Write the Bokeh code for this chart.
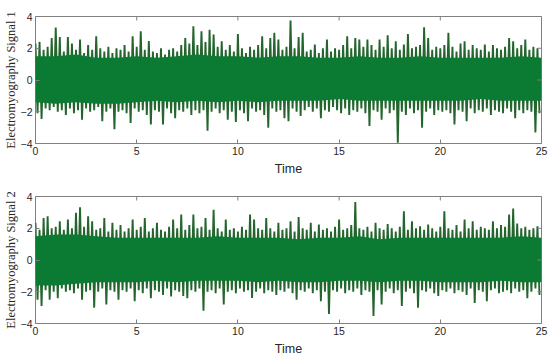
import numpy as np
from bokeh.plotting import figure
from bokeh.layouts import column
from bokeh.models import Range1d, FixedTicker
from bokeh.embed import file_html
from bokeh.resources import INLINE

# Sampling step of the envelope readings (seconds): each bin has one upper
# excursion (at its start) and one lower excursion (half a step later).
TIME_STEP = 0.2
# The solid core of each trace, read once per second (0..25 s).
CORE_STEP = 1.0
X_TICKS = [0, 5, 10, 15, 20, 25]
Y_TICKS = [-4, -2, 0, 2, 4]
X_LABEL = "Time"
Y_LABEL_1 = "Electromyography Signal 1"
Y_LABEL_2 = "Electromyography Signal 2"

S1_UP = [2.3, 2.4, 1.9, 2.1, 2.65, 3.3, 2.7, 1.8, 2.7, 2.3,
         1.9, 2.55, 1.7, 2.2, 1.9, 2.75, 2.0, 1.8, 2.1, 1.7,
         2.0, 1.9, 2.2, 1.8, 2.75, 2.1, 3.07, 1.9, 2.45, 1.8,
         1.7, 2.0, 1.6, 1.9, 2.0, 1.8, 2.2, 2.65, 2.3, 3.38,
         2.2, 3.07, 2.4, 3.17, 2.86, 2.1, 2.44, 1.9, 2.2, 1.8,
         2.9, 2.0, 1.7, 2.1, 1.9, 2.2, 2.75, 2.0, 2.65, 2.97,
         2.55, 1.9, 2.1, 3.74, 2.0, 2.7, 2.97, 1.8, 1.9, 2.23,
         1.7, 2.0, 2.55, 1.8, 2.0, 1.9, 2.2, 2.75, 2.0, 2.65,
         2.55, 2.1, 2.55, 2.2, 1.9, 2.55, 2.1, 2.82, 2.0, 2.44,
         1.9, 2.23, 2.9, 2.0, 2.1, 2.2, 3.32, 2.65, 1.9, 2.1,
         2.0, 2.2, 2.97, 2.1, 1.8, 2.3, 2.44, 1.9, 2.2, 2.0,
         1.9, 2.23, 1.8, 2.2, 2.0, 1.9, 2.1, 2.65, 2.44, 2.0,
         2.2, 2.55, 1.9, 2.1, 2.0]
S1_LO = [-2.1, -2.45, -1.8, -1.9, -1.7, -2.0, -1.9, -2.2, -1.8, -2.1,
         -1.9, -2.5, -1.8, -2.0, -1.9, -1.7, -2.6, -2.0, -1.8, -3.1,
         -2.0, -1.9, -2.1, -2.7, -1.8, -2.0, -1.9, -2.2, -2.8, -1.9,
         -2.0, -2.8, -1.8, -2.1, -2.4, -1.9, -2.0, -1.8, -2.2, -1.9,
         -2.1, -1.9, -3.2, -2.0, -1.8, -2.1, -1.9, -2.5, -2.0, -2.65,
         -1.9, -2.1, -2.6, -1.8, -2.0, -1.9, -2.2, -3.0, -1.8, -2.0,
         -1.9, -2.4, -2.6, -1.8, -2.0, -2.27, -1.9, -1.7, -2.0, -1.8,
         -2.4, -1.9, -2.0, -1.7, -1.9, -2.1, -1.8, -2.2, -1.9, -2.0,
         -1.8, -2.1, -2.9, -1.9, -2.0, -2.5, -1.8, -2.1, -1.9, -3.95,
         -2.0, -2.2, -1.8, -2.1, -1.9, -3.0, -2.0, -1.8, -2.2, -1.9,
         -2.0, -1.9, -2.1, -2.8, -1.9, -2.0, -2.6, -1.8, -2.1, -1.9,
         -2.0, -1.8, -2.2, -1.9, -2.0, -2.1, -1.8, -2.0, -2.4, -1.9,
         -2.1, -1.9, -2.0, -3.3, -2.1]
S1_CORE_UP = [1.5, 1.5, 1.6, 1.4, 1.4, 1.5, 1.4, 1.5, 1.6, 1.5, 1.5, 1.4, 1.5,
              1.5, 1.4, 1.4, 1.5, 1.4, 1.4, 1.5, 1.4, 1.4, 1.4, 1.4, 1.5, 1.4]
S1_CORE_LO = [-1.4, -1.5, -1.4, -1.5, -1.5, -1.4, -1.3, -1.4, -1.3, -1.4, -1.3, -1.4, -1.3,
              -1.3, -1.3, -1.2, -1.3, -1.3, -1.3, -1.3, -1.3, -1.3, -1.2, -1.3, -1.3, -1.3]

S2_UP = [2.34, 1.9, 2.65, 2.75, 2.0, 2.1, 2.44, 1.9, 2.55, 2.0,
         2.97, 3.32, 2.1, 2.75, 2.44, 1.9, 2.0, 2.65, 1.8, 2.34,
         1.9, 2.2, 1.8, 2.0, 2.55, 1.9, 2.1, 2.65, 1.8, 2.0,
         2.34, 1.9, 1.8, 2.1, 2.55, 2.0, 2.86, 1.9, 2.2, 2.86,
         2.0, 2.1, 2.65, 1.9, 3.17, 2.0, 1.8, 2.55, 1.9, 2.0,
         1.8, 2.1, 1.9, 2.86, 2.55, 2.0, 1.9, 2.65, 2.0, 1.8,
         2.34, 1.9, 2.0, 2.44, 1.8, 2.7, 2.0, 1.9, 2.34, 1.8,
         2.23, 1.9, 2.0, 1.8, 2.1, 2.55, 1.9, 2.0, 2.2, 3.66,
         2.0, 1.9, 2.1, 1.8, 2.34, 2.0, 1.9, 2.27, 2.0, 1.8,
         2.1, 3.07, 1.9, 2.44, 2.0, 2.13, 1.9, 2.23, 2.0, 1.8,
         2.1, 3.07, 2.0, 1.9, 2.2, 1.8, 2.55, 2.0, 2.44, 1.9,
         2.1, 2.0, 1.9, 2.44, 2.0, 2.2, 2.1, 2.86, 3.24, 2.3,
         2.0, 2.1, 1.9, 2.0, 2.13]
S2_LO = [-2.5, -2.9, -1.9, -2.5, -2.0, -2.4, -1.8, -2.0, -1.9, -2.1,
         -1.8, -2.5, -2.0, -1.9, -3.0, -2.0, -1.8, -2.8, -1.9, -2.0,
         -2.5, -1.9, -2.0, -1.8, -2.6, -1.9, -2.1, -1.8, -2.4, -1.9,
         -2.0, -2.2, -1.8, -2.3, -1.9, -2.0, -2.27, -2.4, -1.9, -2.0,
         -1.8, -3.2, -2.0, -1.9, -2.1, -1.8, -2.8, -2.0, -1.9, -2.1,
         -1.8, -2.0, -1.9, -2.4, -2.0, -1.8, -2.1, -1.9, -2.0, -2.2,
         -1.9, -2.0, -1.8, -2.1, -2.5, -1.9, -2.0, -1.8, -2.1, -1.9,
         -2.6, -2.0, -3.4, -1.9, -2.0, -1.8, -2.1, -1.9, -2.0, -1.8,
         -2.2, -1.9, -2.0, -3.53, -1.9, -2.8, -2.0, -1.8, -2.1, -1.9,
         -2.9, -2.0, -1.8, -2.1, -3.0, -1.9, -2.0, -1.8, -2.1, -2.27,
         -1.9, -2.0, -1.8, -2.1, -1.9, -2.0, -2.2, -1.8, -2.7, -1.9,
         -2.0, -2.6, -1.9, -1.8, -2.1, -2.0, -1.9, -2.1, -1.8, -2.0,
         -1.9, -2.4, -2.0, -1.8, -2.2]
S2_CORE_UP = [1.5, 1.6, 1.6, 1.5, 1.4, 1.4, 1.4, 1.4, 1.4, 1.5, 1.4, 1.4, 1.4,
              1.3, 1.4, 1.4, 1.5, 1.3, 1.4, 1.4, 1.4, 1.4, 1.4, 1.4, 1.5, 1.4]
S2_CORE_LO = [-1.6, -1.6, -1.5, -1.4, -1.4, -1.4, -1.3, -1.4, -1.3, -1.3, -1.3, -1.4, -1.3,
              -1.4, -1.4, -1.3, -1.3, -1.4, -1.3, -1.3, -1.4, -1.4, -1.4, -1.3, -1.4, -1.4]

FRAME_COLOR = "#808080"
TEXT_COLOR = "#262626"
SPIKE_COLOR = "#23652d"
CORE_COLOR = "#0b7a32"


def interleave(up, lo):
    n = len(up)
    t = np.arange(n) * TIME_STEP
    x = np.empty(2 * n)
    y = np.empty(2 * n)
    x[0::2] = t
    x[1::2] = t + TIME_STEP / 2
    y[0::2] = up
    y[1::2] = lo
    return x, y


def style_axis(ax):
    ax.axis_line_color = None
    ax.major_tick_line_color = FRAME_COLOR
    ax.major_tick_in = 4
    ax.major_tick_out = 0
    ax.minor_tick_line_color = None
    ax.major_label_text_color = TEXT_COLOR
    ax.major_label_text_font = "Liberation Sans"
    ax.major_label_text_font_size = "10.5px"
    ax.major_label_standoff = 3


def make(up, lo, core_up, core_lo, ylabel, top_border, bottom_border):
    x, y = interleave(up, lo)
    tc = np.arange(len(core_up)) * CORE_STEP
    p = figure(frame_width=506, frame_height=127,
               x_range=Range1d(X_TICKS[0], X_TICKS[-1]),
               y_range=Range1d(Y_TICKS[0], Y_TICKS[-1]),
               output_backend="svg", toolbar_location=None,
               min_border_left=26, min_border_right=9,
               min_border_top=top_border, min_border_bottom=bottom_border)
    p.line(x, y, line_color=SPIKE_COLOR, line_width=1.9)
    p.varea(x=tc, y1=core_lo, y2=core_up, fill_color=CORE_COLOR)

    # inward ticks on the top and right edges of the box (MATLAB "box on")
    p.scatter(x=X_TICKS, y=[Y_TICKS[-1]] * len(X_TICKS), marker="dash",
              size=8, angle=np.pi / 2, line_color=FRAME_COLOR, line_width=1)
    p.scatter(x=[X_TICKS[-1]] * len(Y_TICKS), y=Y_TICKS, marker="dash",
              size=8, line_color=FRAME_COLOR, line_width=1)

    p.grid.visible = False
    p.outline_line_color = FRAME_COLOR
    p.outline_line_width = 1
    p.background_fill_color = "white"
    p.border_fill_color = "white"

    p.xaxis.ticker = FixedTicker(ticks=X_TICKS)
    p.yaxis.ticker = FixedTicker(ticks=Y_TICKS)
    style_axis(p.xaxis[0])
    style_axis(p.yaxis[0])
    p.xaxis.axis_label = X_LABEL
    p.xaxis.axis_label_text_font = "Liberation Sans"
    p.xaxis.axis_label_text_font_style = "normal"
    p.xaxis.axis_label_text_font_size = "12.5px"
    p.xaxis.axis_label_text_color = TEXT_COLOR
    p.xaxis.axis_label_standoff = 4
    p.yaxis.axis_label = ylabel
    p.yaxis.axis_label_text_font = "Liberation Serif"
    p.yaxis.axis_label_text_font_style = "normal"
    p.yaxis.axis_label_text_font_size = "12.5px"
    p.yaxis.axis_label_text_color = TEXT_COLOR
    p.yaxis.axis_label_standoff = 0
    return p


p1 = make(S1_UP, S1_LO, S1_CORE_UP, S1_CORE_LO, Y_LABEL_1, 16, 35)
p2 = make(S2_UP, S2_LO, S2_CORE_UP, S2_CORE_LO, Y_LABEL_2, 18, 30)
layout = column(p1, p2, spacing=0)

open("out.html", "w").write(file_html(layout, INLINE))
